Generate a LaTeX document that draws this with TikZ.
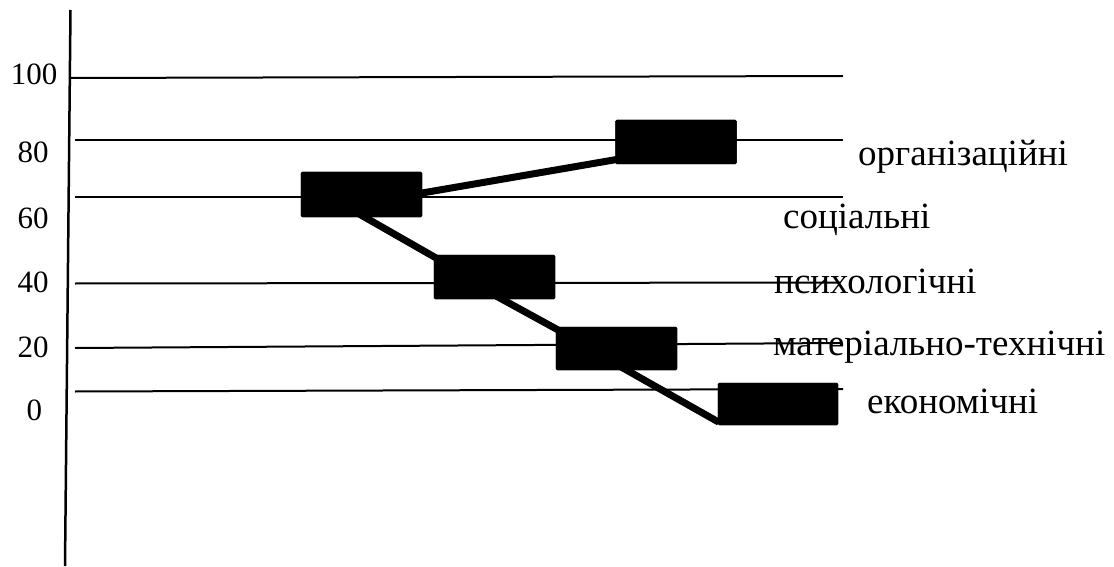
\documentclass[tikz,border=0pt]{standalone}
\usepackage{fontspec}
\setmainfont{Liberation Serif}
\usetikzlibrary{calc}
\tikzset{
  grid/.style={line width=2pt},
  axis/.style={line width=2.5pt},
  bar/.style={fill=black, draw=black, rounded corners=1.5pt, inner sep=0pt},
  link/.style={line width=7pt},
  lab/.style={anchor=base west, inner sep=0pt, font=\fontsize{37}{40}\selectfont},
  num/.style={anchor=base, inner sep=0pt, font=\fontsize{31}{36}\selectfont},
}
\begin{document}
\begin{tikzpicture}[x=1pt,y=-1pt]
\useasboundingbox (0,0) rectangle (1114,567);
% axis
\coordinate (axtop) at (70.5,10);
\coordinate (axbot) at (65,566);
\draw[axis] (axtop) -- (axbot);
% grid lines
\coordinate (l100a) at (70,78);  \coordinate (l100b) at (843,76);
\coordinate (l80a) at (75,140);  \coordinate (l80b) at (843,140);
\coordinate (l60a) at (75,197);  \coordinate (l60b) at (843,197);
\coordinate (l40a) at (75,283.5);  \coordinate (l40b) at (840,282.5);
\coordinate (l20a) at (75,348);  \coordinate (l20b) at (840,343);
\coordinate (l0a) at (75,391.5);   \coordinate (l0b) at (843,389);
\draw[grid] (l100a) -- (l100b);
\draw[grid] (l80a) -- (l80b);
\draw[grid] (l60a) -- (l60b);
\draw[grid] (l40a) -- (l40b);
\draw[grid] (l20a) -- (l20b);
\draw[grid] (l0a) -- (l0b);
% axis numbers
\node[num] (n100) at (34,85) {100};
\node[num] (n80) at (33,163) {80};
\node[num] (n60) at (33,228) {60};
\node[num] (n40) at (33,292) {40};
\node[num] (n20) at (33,357) {20};
\node[num] (n0) at (34.5,420) {0};
% boxes
\node[bar, minimum width=121pt, minimum height=45pt] (A) at (361.5,194.5) {};
\node[bar, minimum width=121pt, minimum height=44pt] (B) at (676,142) {};
\node[bar, minimum width=121pt, minimum height=44pt] (C) at (494.5,277) {};
\node[bar, minimum width=121pt, minimum height=43pt] (D) at (616.5,348.5) {};
\node[bar, minimum width=120pt, minimum height=42pt] (E) at (778,404) {};
% connectors
\draw[link] ($(A.east)+(-3,-1)$) -- ($(B.south west)+(3,-5)$);
\draw[link] ($(A.south)+(-2,-3)$) -- ($(C.north west)+(2,3)$);
\draw[link] ($(C.south)+(2,-3)$) -- ($(D.north west)+(2,3)$);
\draw[link] ($(D.south)+(5,-3)$) -- ($(E.south west)+(1,-3)$);
% boxes on top of connectors
\fill[rounded corners=1.5pt] (A.south west) rectangle (A.north east);
\fill[rounded corners=1.5pt] (B.south west) rectangle (B.north east);
\fill[rounded corners=1.5pt] (C.south west) rectangle (C.north east);
\fill[rounded corners=1.5pt] (D.south west) rectangle (D.north east);
\fill[rounded corners=1.5pt] (E.south west) rectangle (E.north east);
% labels
\node[lab] (t1) at (858,165) {організаційні};
\node[lab] (t2) at (783,228) {соціальні};
\node[lab] (t3) at (774,293) {психологічні};
\node[lab] (t4) at (773,355) {матеріально-технічні};
\node[lab] (t5) at (867,413) {економічні};
\end{tikzpicture}
\end{document}
